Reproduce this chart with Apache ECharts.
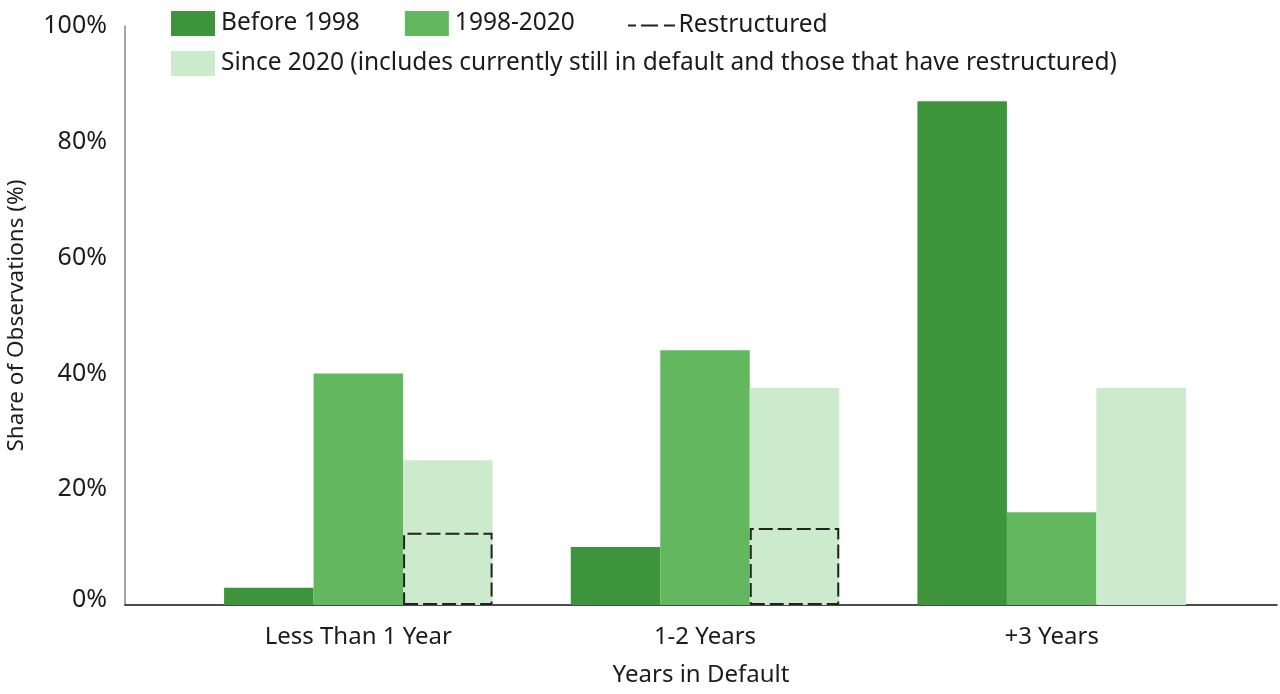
<!DOCTYPE html>
<html>
<head>
<meta charset="utf-8">
<script src="https://cdn.jsdelivr.net/npm/echarts@6/dist/echarts.min.js"></script>
<style>html,body{margin:0;padding:0;background:#fff}#c{width:1280px;height:694px}</style>
</head>
<body>
<div id="c"></div>
<script>
const categories = ['Less Than 1 Year', '1-2 Years', '+3 Years'];
const before1998 = [3, 10, 87];
const y1998to2020 = [40, 44, 16];
const since2020 = [25, 37.5, 37.5];
const restructured = [12.5, 13.3, null];
const yTicks = [0, 20, 40, 60, 80, 100];

const FONT = 'Noto Sans';
const TXT = '#1c1c1c';
const C_DARK = '#3d943b';
const C_MID = '#62b75f';
const C_LIGHT = '#cbebcc';
const BW = 89.5;
const LEG_FS = 24.5;

const chart = echarts.init(document.getElementById('c'));
chart.setOption({
  animation: false,
  textStyle: { fontFamily: FONT },
  grid: [
    { left: 185, right: 55, top: 26, bottom: 89, outerBoundsMode: 'none', containLabel: false },
    { left: 125, right: 3, top: 26, bottom: 89, outerBoundsMode: 'none', containLabel: false }
  ],
  legend: [
    {
      left: 171, top: 11, padding: 0, itemWidth: 44, itemHeight: 25, itemGap: 45,
      icon: 'rect', selectedMode: false,
      textStyle: { fontSize: LEG_FS, color: TXT, fontFamily: FONT, padding: [0, 0, 0, 1] },
      data: ['Before 1998', '1998-2020']
    },
    {
      left: 628, top: 13, padding: 0, itemWidth: 48, itemHeight: 2, selectedMode: false,
      textStyle: { fontSize: LEG_FS, color: TXT, fontFamily: FONT, padding: [0, 0, 0, -2] },
      data: [{ name: 'Restructured', icon: 'path://M0,0h8v2h-8z M13,0h17v2h-17z M36,0h11v2h-11z', itemStyle: { color: '#222', borderWidth: 0 } }]
    },
    {
      left: 171, top: 51, padding: 0, itemWidth: 44, itemHeight: 25,
      icon: 'rect', selectedMode: false,
      textStyle: { fontSize: LEG_FS, color: TXT, fontFamily: FONT, padding: [0, 0, 0, 1] },
      data: ['Since 2020 (includes currently still in default and those that have restructured)']
    }
  ],
  xAxis: [
    {
      type: 'category', gridIndex: 0, data: categories,
      axisLine: { show: false }, axisTick: { show: false },
      axisLabel: { fontSize: 24, color: TXT, margin: 20, fontFamily: FONT }
    },
    {
      type: 'category', gridIndex: 1, data: [''],
      axisLine: { show: true, lineStyle: { color: '#111', width: 1.5 } },
      axisTick: { show: false }, axisLabel: { show: false },
      name: 'Years in Default', nameLocation: 'middle', nameGap: 58,
      nameTextStyle: { fontSize: 24, color: TXT, fontFamily: FONT }
    },
    {
      type: 'category', gridIndex: 0, data: categories, show: false
    }
  ],
  yAxis: [
    { type: 'value', gridIndex: 0, min: 0, max: 100, interval: 20, show: false },
    {
      type: 'value', gridIndex: 1, min: 0, max: 100, interval: 20,
      axisLine: { show: true, lineStyle: { color: '#8a8a8a', width: 1.5 } },
      axisTick: { show: false }, splitLine: { show: false },
      axisLabel: {
        fontSize: 25, color: TXT, margin: 18, fontFamily: FONT,
        formatter: function (v) { return v === 0 ? '{z|' + v + '%}' : v + '%'; },
        rich: { z: { fontSize: 25, color: TXT, fontFamily: FONT, padding: [0, 0, 10, 0] } }
      },
      name: 'Share of Observations (%)', nameLocation: 'middle', nameGap: 97,
      nameTextStyle: { fontSize: 22.5, color: TXT, fontFamily: FONT }
    }
  ],
  series: [
    { name: 'Before 1998', type: 'bar', xAxisIndex: 0, yAxisIndex: 0, barWidth: BW, barGap: 0,
      itemStyle: { color: C_DARK }, data: before1998 },
    { name: '1998-2020', type: 'bar', xAxisIndex: 0, yAxisIndex: 0, barWidth: BW, barGap: 0,
      itemStyle: { color: C_MID }, data: y1998to2020 },
    { name: 'Since 2020 (includes currently still in default and those that have restructured)', type: 'bar', xAxisIndex: 0, yAxisIndex: 0, barWidth: BW, barGap: 0,
      itemStyle: { color: C_LIGHT }, data: since2020 },
    { name: '_p1', type: 'bar', xAxisIndex: 2, yAxisIndex: 0, barWidth: BW, barGap: 0, silent: true, data: [null, null, null] },
    { name: '_p2', type: 'bar', xAxisIndex: 2, yAxisIndex: 0, barWidth: BW, barGap: 0, silent: true, data: [null, null, null] },
    { name: 'Restructured', type: 'bar', xAxisIndex: 2, yAxisIndex: 0, barWidth: BW, barGap: 0, z: 5,
      itemStyle: { color: 'rgba(0,0,0,0)', borderColor: '#222', borderWidth: 2, borderType: [14, 5] },
      data: restructured }
  ]
});
</script>
</body>
</html>
